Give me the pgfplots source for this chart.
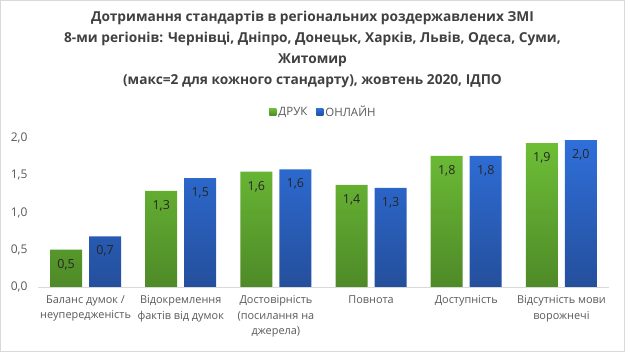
\documentclass[border=0pt]{standalone}
\usepackage{pgfplots}
\pgfplotsset{compat=1.18}
\usepackage{pgfplotstable}
\usepackage{fontspec}
\setmainfont{Open Sans}
\definecolor{gtop}{HTML}{6DBE36}
\definecolor{gbot}{HTML}{4E8A28}
\definecolor{btop}{HTML}{2F6FDA}
\definecolor{bbot}{HTML}{244F9C}
\definecolor{txt}{HTML}{595959}
\definecolor{ttl}{HTML}{404040}
\definecolor{lbl}{HTML}{262626}
\definecolor{frame}{HTML}{D9D9D9}
\pgfplotstableread{
x y lab
0 0.50 0,5
1 1.29 1,3
2 1.55 1,6
3 1.37 1,4
4 1.76 1,8
5 1.93 1,9
}\druk
\pgfplotstableread{
x y lab
0 0.68 0,7
1 1.46 1,5
2 1.58 1,6
3 1.33 1,3
4 1.76 1,8
5 1.97 2,0
}\online
\begin{document}
\begin{tikzpicture}
\useasboundingbox (0pt,0pt) rectangle (625pt,352pt);
\draw[frame, line width=0.8pt] (0.5pt,0.5pt) rectangle (624.5pt,351.5pt);
\node[anchor=north, align=center, text=ttl, font=\bfseries\fontsize{13.7}{20.8}\selectfont, inner sep=0pt] at (312.5pt,341pt)
{Дотримання стандартів в регіональних роздержавлених ЗМІ\\
8-ми регіонів: Чернівці, Дніпро, Донецьк, Харків, Львів, Одеса, Суми,\\
Житомир\\
(макс=2 для кожного стандарту), жовтень 2020, ІДПО};
\begin{axis}[
  at={(38pt,65pt)}, anchor=south west,
  scale only axis, width=571pt, height=149pt,
  ybar=7pt, bar width=32pt,
  xmin=-0.5, xmax=5.5, ymin=0, ymax=2.0,
  xtick=data,
  xticklabels={{Баланс думок /\\неупередженість},{Відокремлення\\фактів від думок},{Достовірність\\(посилання на\\джерела)},{Повнота},{Доступність},{Відсутність мови\\ворожнечі}},
  xticklabel style={align=center, text=txt, font=\fontsize{10.9}{15.5}\selectfont, yshift=-5pt},
  ytick={0,0.5,1,1.5,2},
  yticklabel style={text=txt, font=\fontsize{12}{14}\selectfont, xshift=-7pt},
  /pgf/number format/.cd, fixed, fixed zerofill, precision=1, use comma, assume math mode=true,
  /pgfplots/.cd,
  major tick length=0pt,
  axis x line*=bottom, axis y line*=left,
  x axis line style={draw=frame, line width=0.8pt},
  y axis line style={draw=none},
  axis line style={-},
  enlargelimits=false, clip=false,
  nodes near coords, point meta=explicit symbolic,
  every node near coord/.append style={anchor=north, yshift=-6pt, text=lbl, font=\fontsize{12.5}{14}\selectfont},
  legend style={at={(0.5,1)}, anchor=center, yshift=26pt, draw=none, fill=none,
    legend columns=2, font=\fontsize{11.5}{12}\selectfont, text=txt,
    /tikz/every even column/.append style={column sep=7pt}},
  legend cell align=left,
]
\addplot[draw=none, top color=gtop, bottom color=gbot,
  legend image code/.code={\fill[gtop!70!gbot] (0pt,-3.5pt) rectangle (7pt,3.5pt);}]
  table[x=x, y=y, meta=lab] {\druk};
\addplot[draw=none, top color=btop, bottom color=bbot,
  legend image code/.code={\fill[btop!70!bbot] (0pt,-3.5pt) rectangle (7pt,3.5pt);}]
  table[x=x, y=y, meta=lab] {\online};
\legend{ДРУК, ОНЛАЙН}
\end{axis}
\end{tikzpicture}
\end{document}
